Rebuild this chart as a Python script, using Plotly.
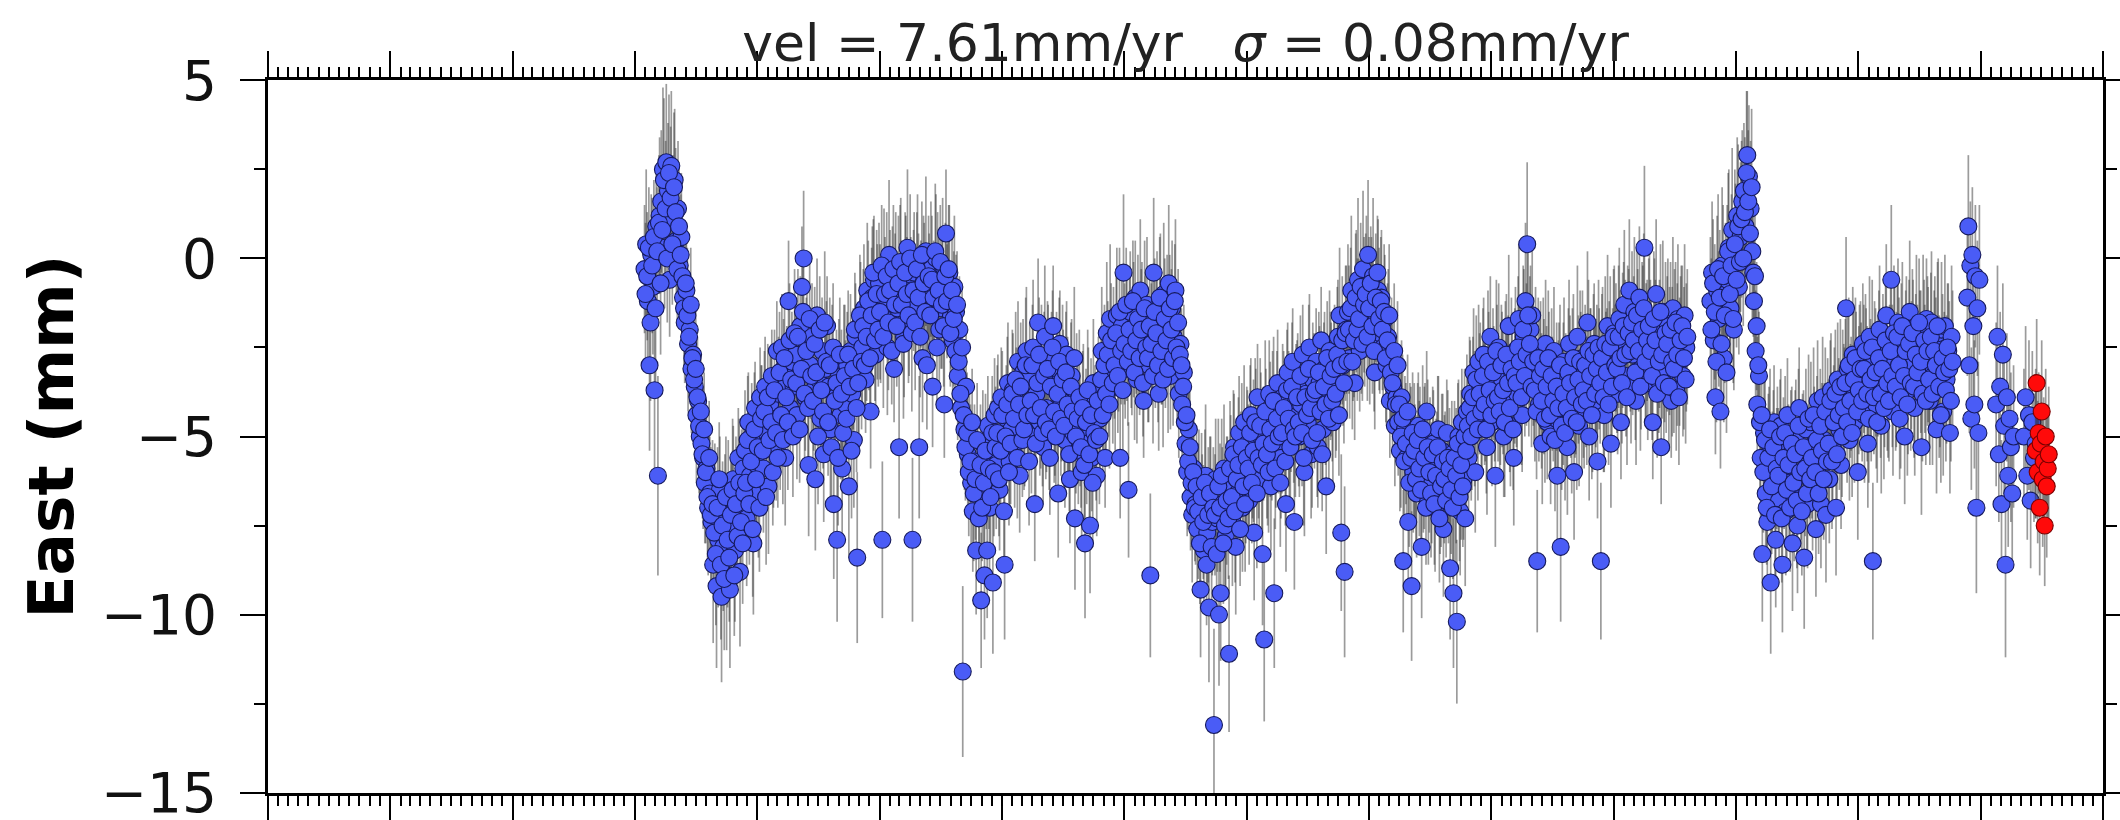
import pandas as pd
import plotly.graph_objects as go


def vals(text):
    """Parse a whitespace-separated block of numbers."""
    return [float(v) for v in text.split()]


# East component of a GPS position time series (mm).
# Segment A (from 2008-01-30), solutions every 5 days
east_a1 = [-0.3, 0.4, -1.2, -3.0, 0.1, -0.8, -3.7, 0.9, -6.1, 1.2,
           1.6, 2.5, 0.3, 2.7, 1.9, -0.6, 2.6, 1.1, 2.2, 0.5,
           1.4, -0.2, 0.6, -1.1, -1.8, -0.9, -2.4, -2.0, -3.1, -2.7,
           -3.6, -4.4, -4.0, -5.0, -5.2, -5.6, -6.3, -5.9, -7.0, -6.6,
           -7.4, -8.6, -6.8, -9.2, -7.9, -6.5, -9.5, -8.1, -7.2, -8.9,
           -6.7, -9.3, -7.5, -6.2, -8.2, -7.0, -5.6, -8.8, -6.4, -5.9,
           -5.4, -7.3, -4.6, -6.1, -5.0, -8.0, -4.2, -5.8, -6.6, -3.9,
           -4.6, -5.9, -3.6, -4.9, -6.4, -4.1, -3.3, -5.3, -4.5, -2.6,
           -3.8, -4.7, -2.5, -3.1, -5.6, -3.5, -1.2, -4.2, -2.9, -3.6,
           -2.7, -4.4, -3.3, -1.9, -0.8, 0.0, -3.9, -2.4, -5.8, -3.0]
east_a2 = [-2.2, -3.7, -6.2, -1.6, -3.4, -4.5, -2.6, -5.5, -3.1, -1.9,
           -3.6, -4.8, -2.8, -6.9, -3.9, -7.9, -3.2, -4.4, -5.9, -2.9,
           -4.1, -3.0, -6.4, -2.6, -3.8, -5.1, -2.2, -8.4, -3.3, -1.8,
           -2.5, -1.4, -3.4, -0.9, -2.0, -4.3, -1.1, -0.6, -2.7, -1.5,
           -0.7, -1.9, -7.9, -0.4, -1.2, -2.5, 0.1, -1.6, -0.8, -3.1,
           -0.5, -1.4, -5.3, -0.2, -1.1, -2.2, -0.6, 0.3, -1.7, -0.9,
           -7.9, -0.4, -1.3, -0.1, -5.3, -1.0, -2.8, -0.6, 0.2, -1.5,
           -0.9, -0.3, -3.6, -1.2, 0.0, -0.7, -2.0, -1.4, -0.2, -4.1,
           0.7, -1.0, -0.4, -1.6, -2.3, -0.8, -1.5, -3.3, -2.0, -4.2,
           -11.6, -4.8, -3.6, -5.5, -5.0, -6.3, -7.1, -5.7, -8.2, -6.0]
east_a3 = [-6.6, -9.6, -5.2, -8.9, -6.0, -4.7, -7.0, -5.5, -9.1, -4.4,
           -5.8, -4.2, -6.5, -3.9, -5.0, -8.6, -4.5, -3.5, -5.7, -4.8,
           -3.7, -5.2, -4.0, -2.9, -6.1, -4.4, -3.2, -5.0, -2.6, -4.3,
           -3.3, -4.9, -2.5, -6.9, -3.8, -1.8, -4.6, -3.0, -5.3, -2.2,
           -4.2, -2.8, -5.6, -3.4, -1.9, -4.7, -3.1, -6.6, -2.4, -4.0,
           -3.6, -5.1, -2.7, -4.4, -6.2, -3.3, -4.9, -7.3, -3.8, -5.4,
           -4.8, -6.0, -3.9, -8.0, -5.2, -4.1, -7.5, -5.6, -3.5, -4.6,
           -6.1, -3.7, -4.5, -2.6, -3.9, -5.6, -2.1, -3.3, -1.7, -2.9,
           -2.4, -3.6, -1.6, -2.8, -5.6, -1.9, -0.4, -3.1, -2.2, -6.5,
           -1.5, -2.9, -2.0, -1.1, -3.4, -2.5, -0.9, -1.8, -4.0, -2.3]
east_a4 = [-1.3, -3.0, -8.9, -2.1, -0.4, -2.7, -1.6, -3.8, -1.2, -2.4,
           -1.0, -2.6, -1.7, -0.7, -3.3, -1.4, -2.2, -0.9, -2.9, -3.8,
           -2.4, -4.1, -3.2, -5.2, -6.0, -4.8, -6.7, -7.2, -5.9, -6.9,
           -7.6, -6.4, -9.3, -7.0, -8.2, -6.1, -7.7, -9.8, -6.8, -7.4,
           -13.1, -6.2, -7.3, -10.0, -9.4, -6.9, -5.9, -7.8, -6.5, -11.1,
           -6.0, -7.4, -5.3, -8.1, -6.6, -4.9, -5.8, -7.0, -4.6, -6.3,
           -5.2, -6.8, -4.4, -5.9, -7.7, -4.8, -3.9, -6.2, -5.0, -8.3,
           -10.7, -4.7, -5.8, -3.8, -6.4, -4.2, -9.4, -5.3, -3.5, -4.9,
           -5.6, -3.9, -4.7, -6.9, -3.2, -5.1, -4.4, -2.9, -7.4, -4.0,
           -3.6, -5.0, -4.1, -2.7, -6.0, -3.8, -4.6, -2.5, -5.5, -3.4]
east_a5 = [-4.3, -2.9, -5.3, -3.5, -2.3, -4.8, -3.1, -6.4, -3.9, -2.6,
           -3.4, -4.6, -2.8, -3.7, -2.2, -1.6, -7.7, -3.0, -8.8, -2.0,
           -1.5, -2.8, -0.9, -2.2, -3.5, -1.2, -0.6, -2.6, -1.9, -0.3,
           -1.8, -0.8, 0.1, -2.4, -1.3, -0.5, -3.2, -1.6, -0.9, -2.1,
           -1.1, -2.5, -1.7, -3.0, -2.2, -4.0, -2.9, -3.6, -4.7, -3.9,
           -4.6, -5.4, -3.9, -8.5, -4.8, -5.6, -7.4, -5.1, -9.2, -6.0,
           -5.7, -6.6, -4.7, -5.3, -8.1, -6.1, -5.0, -4.3, -6.8, -5.5,
           -6.3, -5.2, -7.0, -5.9, -4.8, -6.6, -5.4, -7.6, -6.0, -4.9,
           -6.4, -8.7, -5.5, -9.4, -6.8, -10.2, -5.0, -7.1, -4.6, -6.2,
           -7.3, -4.3, -5.6, -3.8, -4.9, -3.2, -6.0, -4.1, -2.9, -3.6]
east_a6 = [-4.4, -2.7, -3.9, -5.3, -3.1, -2.2, -4.6, -3.5, -6.1, -3.0,
           -2.5, -4.2, -3.4, -5.0, -2.8, -3.9, -1.9, -4.7, -3.2, -5.6,
           -2.6, -3.8, -1.7, -3.0, -4.4, -2.2, -1.2, 0.4, -3.3, -2.0,
           -1.6, -3.5, -2.7, -8.5, -4.1, -3.0, -5.2, -3.6, -2.4, -4.6,
           -3.2, -5.0, -3.8, -2.6, -4.5, -6.1, -3.4, -8.1, -4.2, -2.9,
           -3.7, -5.3, -2.4, -4.0, -3.1, -6.0, -3.9, -2.2, -4.7, -3.3,
           -2.8, -4.3, -3.6, -1.8, -5.0, -3.0, -4.1, -2.4, -3.5, -5.7,
           -3.1, -8.5, -2.6, -4.4, -3.4, -1.9, -2.9, -5.2, -3.0, -2.1,
           -2.5, -3.8, -1.7, -4.6, -2.3, -1.3, -3.3, -2.0, -0.9, -3.6,
           -2.7, -1.5, -4.0, -2.2, -1.1, -3.1, -2.0, 0.3, -2.6, -3.5]
east_a7 = [-1.8, -2.9, -4.6, -2.0, -1.0, -3.4, -2.4, -5.3, -1.5, -2.8,
           -3.2, -1.9, -2.6, -4.0, -1.4, -2.2, -3.7, -1.7, -2.9, -2.1,
           -3.3, -1.6, -2.5]

sig_a1 = [1.8, 2.1, 1.6, 2.4, 1.7, 1.9, 2.6, 1.5, 2.8, 2.2,
          2.0, 2.3, 1.7, 2.2, 1.9, 1.6, 2.1, 1.8, 2.0, 1.5,
          1.9, 1.6, 1.8, 1.5, 1.7, 1.4, 1.9, 1.6, 1.8, 1.5,
          1.7, 1.9, 1.5, 1.8, 1.6, 2.0, 1.7, 1.5, 1.9, 1.6,
          1.8, 2.2, 1.6, 2.3, 1.9, 1.5, 2.4, 1.8, 1.7, 2.1,
          1.6, 2.2, 1.8, 1.5, 2.0, 1.7, 1.4, 2.1, 1.6, 1.5,
          1.7, 1.9, 1.4, 1.6, 1.5, 2.0, 1.3, 1.7, 1.8, 1.4,
          1.6, 1.8, 1.4, 1.5, 1.9, 1.6, 1.3, 1.7, 1.5, 1.4,
          1.6, 1.8, 1.5, 1.4, 1.9, 1.6, 1.7, 1.5, 1.4, 1.6,
          1.5, 1.8, 1.6, 1.4, 1.7, 1.9, 1.5, 1.6, 2.0, 1.5]
sig_a2 = [1.5, 1.7, 2.0, 1.6, 1.4, 1.8, 1.5, 1.9, 1.6, 1.4,
          1.7, 1.9, 1.5, 2.1, 1.6, 2.3, 1.5, 1.8, 2.0, 1.6,
          1.8, 1.5, 2.0, 1.6, 1.7, 1.9, 1.5, 2.4, 1.6, 1.7,
          1.6, 1.8, 1.5, 1.9, 1.7, 1.6, 2.0, 1.8, 1.5, 1.9,
          1.7, 1.6, 2.2, 1.8, 1.5, 1.9, 2.1, 1.6, 1.7, 1.5,
          1.8, 1.6, 2.0, 1.9, 1.5, 1.7, 1.8, 2.2, 1.6, 1.5,
          2.3, 1.7, 1.6, 1.9, 2.0, 1.5, 1.8, 1.6, 2.1, 1.7,
          1.6, 1.9, 1.7, 1.5, 1.8, 2.0, 1.6, 1.7, 1.9, 1.5,
          1.8, 1.6, 1.9, 1.5, 1.7, 2.0, 1.6, 1.8, 1.5, 1.9,
          2.4, 1.7, 1.6, 1.8, 1.5, 1.9, 1.7, 1.6, 1.8, 1.5]
sig_a3 = [1.7, 1.9, 1.5, 1.8, 1.6, 1.4, 1.9, 1.5, 2.0, 1.6,
          1.8, 1.5, 1.7, 1.4, 1.6, 2.1, 1.5, 1.7, 1.6, 1.4,
          1.6, 1.8, 1.5, 1.7, 1.6, 1.9, 1.5, 1.4, 1.8, 1.6,
          1.5, 1.7, 1.9, 1.6, 1.4, 1.8, 1.5, 1.7, 1.6, 2.0,
          1.8, 1.5, 1.6, 1.9, 1.7, 1.4, 1.6, 1.8, 1.5, 1.7,
          1.6, 1.9, 1.5, 1.7, 1.8, 1.6, 1.4, 2.0, 1.7, 1.5,
          1.6, 1.8, 1.5, 2.1, 1.7, 1.6, 1.9, 1.5, 1.8, 1.6,
          1.7, 1.5, 1.9, 1.8, 1.6, 1.4, 2.0, 1.7, 2.1, 1.5,
          1.6, 1.8, 1.9, 1.5, 1.7, 1.6, 2.2, 1.4, 1.8, 1.9,
          1.7, 1.5, 1.9, 1.6, 1.8, 1.5, 2.0, 1.7, 1.6, 1.8]
sig_a4 = [1.9, 1.6, 2.3, 1.7, 2.1, 1.5, 1.8, 1.6, 1.9, 1.7,
          2.0, 1.6, 1.8, 2.2, 1.5, 1.9, 1.7, 2.0, 1.6, 1.8,
          1.7, 1.5, 1.9, 1.6, 1.8, 1.7, 1.5, 1.9, 1.6, 1.7,
          1.8, 1.6, 1.9, 1.5, 1.7, 2.0, 1.6, 2.1, 1.8, 1.5,
          2.7, 1.7, 1.5, 2.0, 1.9, 1.6, 1.8, 1.7, 1.5, 2.2,
          1.6, 1.8, 1.5, 1.9, 1.7, 1.6, 1.5, 1.8, 1.6, 1.7,
          1.5, 1.8, 1.6, 1.4, 1.9, 1.7, 1.5, 1.6, 1.8, 2.0,
          2.3, 1.6, 1.7, 1.5, 1.8, 1.6, 2.1, 1.7, 1.5, 1.6,
          1.7, 1.5, 1.6, 1.9, 1.4, 1.7, 1.6, 1.5, 1.9, 1.6,
          1.5, 1.7, 1.6, 1.4, 1.8, 1.5, 1.6, 1.5, 1.8, 1.6]
sig_a5 = [1.6, 1.5, 1.7, 1.6, 1.5, 1.8, 1.6, 1.9, 1.5, 1.7,
          1.6, 1.8, 1.5, 1.7, 1.6, 1.9, 2.2, 1.7, 2.4, 1.8,
          1.9, 1.7, 2.1, 1.8, 1.6, 2.0, 2.3, 1.7, 1.9, 2.2,
          1.8, 2.0, 2.1, 1.7, 1.9, 2.2, 1.6, 1.8, 2.0, 1.7,
          1.9, 1.6, 1.8, 1.7, 1.9, 1.6, 1.8, 1.5, 1.7, 1.6,
          1.5, 1.7, 1.6, 2.0, 1.5, 1.8, 1.9, 1.6, 2.1, 1.7,
          1.6, 1.8, 1.5, 1.7, 2.0, 1.6, 1.5, 1.7, 1.8, 1.6,
          1.7, 1.5, 1.8, 1.6, 1.5, 1.7, 1.6, 1.9, 1.7, 1.5,
          1.6, 2.0, 1.5, 2.1, 1.7, 2.3, 1.6, 1.8, 1.5, 1.7,
          1.9, 1.6, 1.7, 1.5, 1.6, 1.8, 1.7, 1.5, 1.6, 1.8]
sig_a6 = [1.7, 1.6, 1.8, 1.9, 1.6, 1.7, 1.8, 1.6, 2.0, 1.7,
          1.8, 1.6, 1.9, 1.7, 1.6, 1.8, 2.0, 1.7, 1.6, 1.9,
          1.8, 1.7, 2.1, 1.8, 1.6, 1.9, 2.2, 2.3, 1.7, 1.8,
          2.0, 1.7, 1.9, 2.0, 1.6, 1.8, 1.7, 1.9, 1.8, 1.6,
          1.7, 1.9, 1.6, 1.8, 1.7, 1.9, 1.6, 2.1, 1.7, 1.8,
          1.6, 1.9, 1.8, 1.6, 1.7, 1.9, 1.6, 2.0, 1.7, 1.8,
          1.9, 1.6, 1.7, 2.0, 1.8, 1.6, 1.9, 1.7, 1.8, 1.6,
          1.7, 2.2, 1.8, 1.6, 1.9, 2.0, 1.7, 1.8, 1.6, 1.9,
          1.8, 1.7, 2.0, 1.6, 1.9, 2.1, 1.7, 1.8, 2.0, 1.6,
          1.7, 2.1, 1.8, 1.9, 2.0, 1.7, 1.8, 2.3, 1.9, 1.6]
sig_a7 = [1.9, 1.7, 1.6, 2.0, 2.1, 1.7, 1.8, 1.6, 2.0, 1.8,
          1.7, 1.9, 1.8, 1.6, 2.0, 1.9, 1.7, 2.1, 1.8, 1.9,
          1.7, 2.0, 1.8]

# Segment A, intermediate solutions (3 days after each of the above)
east_a_mid = vals("""
-1.0 -0.5 0.3 -1.8 -0.2 0.6 -1.4 0.2 1.0 -0.7
0.8 2.2 1.4 0.0 2.4 1.7 0.4 2.0 1.3 -0.3
0.9 0.1 -0.5 -1.4 -0.7 -1.6 -2.2 -1.3 -2.8 -3.4
-3.1 -3.9 -4.7 -4.3 -5.5 -4.8 -6.0 -6.7 -5.6 -7.2
-6.9 -7.7 -8.3 -7.0 -6.2 -8.6 -7.5 -9.0 -6.7 -7.9
-8.4 -7.2 -6.5 -8.9 -6.9 -7.8 -6.3 -7.4 -8.0 -6.6
-6.3 -5.1 -6.9 -5.7 -7.6 -4.8 -6.2 -5.3 -7.0 -4.5
-5.4 -4.3 -6.7 -3.9 -5.1 -4.6 -6.0 -3.7 -4.9 -5.6
-3.2 -4.4 -5.1 -2.8 -3.9 -4.6 -2.3 -3.4 -5.0 -2.1
-3.5 -2.2 -4.8 -3.1 -1.5 -3.8 -2.6 -4.2 -1.7 -3.3
-4.0 -2.4 -3.2 -5.0 -2.0 -3.7 -4.3 -1.8 -2.9 -4.6
-3.0 -5.3 -2.5 -4.0 -3.5 -5.6 -2.7 -3.8 -4.9 -3.3
-4.5 -2.7 -3.6 -5.4 -3.1 -2.0 -4.2 -3.5 -1.6 -2.9
-1.9 -3.0 -2.2 -1.2 -2.8 -1.6 -0.4 -2.3 -1.0 -2.0
-1.5 -0.2 -2.2 -1.0 -0.5 -1.8 -0.9 -2.6 -0.3 -1.3
-1.9 -0.7 -0.1 -1.3 -2.4 -0.4 -1.0 -1.6 0.0 -2.1
-0.9 -1.8 -0.3 -1.1 -2.2 0.1 -0.7 -1.5 -3.0 -0.5
-1.6 -0.6 -1.1 0.2 -2.5 -0.9 -0.1 -1.3 -1.9 -0.5
-1.2 -0.3 -2.1 -0.9 -1.7 -2.6 -1.3 -2.9 -3.8 -2.5
-4.4 -5.3 -4.9 -6.0 -5.7 -4.6 -6.6 -6.2 -5.1 -7.3
-5.8 -7.0 -6.3 -5.4 -8.2 -5.9 -6.7 -4.9 -6.0 -5.3
-4.9 -6.2 -5.4 -4.4 -7.1 -5.0 -4.1 -6.0 -5.2 -3.8
-4.5 -3.4 -5.6 -4.1 -3.6 -5.1 -4.8 -3.0 -4.4 -5.7
-4.0 -3.0 -4.4 -5.2 -3.5 -2.7 -4.2 -4.9 -3.3 -4.6
-3.1 -4.8 -3.6 -2.5 -4.3 -5.0 -3.8 -2.9 -4.5 -3.4
-4.7 -3.2 -4.1 -5.5 -3.6 -4.3 -2.8 -5.0 -4.5 -3.9
-5.3 -4.2 -5.8 -4.6 -3.7 -5.5 -4.4 -6.3 -4.9 -5.1
-4.0 -5.0 -3.4 -4.4 -3.0 -3.8 -2.7 -4.1 -2.3 -3.5
-3.0 -2.1 -3.3 -1.5 -2.6 -3.7 -2.4 -1.3 -2.9 -2.0
-2.6 -1.2 -3.2 -2.3 -1.7 -2.8 -2.0 -3.5 -1.4 -2.5
-2.8 -1.9 -2.4 -3.3 -1.5 -2.1 -3.0 -1.1 -2.6 -3.4
-1.7 -2.3 -3.1 -1.4 -2.0 -2.8 -1.2 -2.5 -1.8 -2.7
-3.0 -3.6 -4.6 -4.4 -5.7 -5.3 -6.3 -6.0 -7.0 -6.4
-7.1 -8.0 -6.7 -7.4 -6.3 -8.6 -7.2 -6.6 -8.1 -7.0
-7.2 -8.3 -6.4 -7.0 -6.1 -8.0 -7.5 -6.8 -7.3 -5.9
-6.7 -5.5 -7.1 -6.2 -5.8 -7.6 -5.3 -6.4 -6.9 -5.6
-5.9 -4.9 -6.3 -5.4 -4.6 -6.6 -5.6 -4.7 -5.8 -5.2
-4.3 -5.5 -6.0 -4.8 -5.2 -4.0 -5.9 -4.5 -5.0 -6.3
-4.9 -4.2 -5.7 -3.7 -4.5 -5.3 -3.6 -4.8 -5.0 -3.9
-4.6 -3.3 -4.9 -5.6 -3.9 -4.4 -3.1 -4.2 -5.1 -3.8
-3.7 -4.9 -3.2 -4.3 -5.5 -3.6 -4.1 -2.8 -4.5 -3.3
-4.0 -3.1 -3.8 -2.7 -4.4 -3.0 -2.3 -3.5 -2.1 -2.9
-2.0 -1.4 -2.9 -2.3 -1.1 -2.0 -1.7 -0.8 -2.4 -1.3
-1.0 -2.2 -1.4 -0.7 -1.9 -2.6 -1.1 -0.4 -1.7 -1.2
-2.0 -1.5 -2.8 -2.3 -1.6 -3.2 -3.5 -2.6 -4.1 -3.0
-4.1 -5.0 -4.5 -5.7 -5.2 -4.3 -6.3 -5.6 -4.9 -5.4
-6.2 -5.1 -5.9 -6.5 -4.8 -5.6 -7.0 -5.3 -6.0 -6.6
-5.5 -6.9 -6.1 -5.3 -7.3 -6.4 -5.7 -6.2 -6.8 -5.6
-5.9 -6.5 -7.0 -5.6 -6.1 -5.2 -6.7 -5.8 -6.4 -5.0
-5.4 -4.7 -4.2 -5.0 -3.9 -4.5 -3.4 -4.8 -3.8 -4.3
-3.3 -4.1 -4.8 -2.9 -3.7 -4.4 -3.2 -4.0 -2.6 -3.9
-4.3 -3.0 -3.7 -4.6 -2.7 -3.5 -4.2 -3.1 -4.8 -3.3
-3.5 -2.5 -2.9 -3.9 -2.0 -3.3 -2.7 -1.6 -2.4 -3.6
-2.9 -3.7 -4.3 -2.8 -3.3 -4.0 -3.1 -4.5 -3.6 -2.8
-4.4 -3.3 -4.0 -5.1 -3.6 -4.2 -3.0 -4.7 -3.8 -4.9
-4.2 -3.2 -3.5 -4.5 -2.8 -3.9 -4.6 -3.4 -2.9 -4.1
-3.7 -3.0 -4.0 -2.6 -3.3 -4.4 -2.7 -3.8 -3.1 -2.5
-3.5 -2.8 -3.9 -2.4 -3.2 -4.1 -2.5 -3.6 -2.2 -3.0
-3.1 -2.2 -2.8 -3.5 -1.9 -2.7 -3.9 -2.1 -2.6 -1.8
-2.3 -3.2 -1.6 -2.6 -3.6 -2.0 -1.4 -2.9 -2.3 -1.9
-2.6 -3.3 -1.7 -2.3 -3.8 -2.9 -1.5 -2.7 -3.5 -2.1
-2.4 -3.6 -2.0 -2.9 -3.1 -1.8 -2.7 -3.9 -2.3 -1.9
-2.8 -3.4 -2.2
""")
sig_a_mid = vals("""
2.0 1.8 1.7 2.2 1.9 1.6 2.1 1.8 1.9 2.0 1.7 2.3 1.9 1.8 2.2 2.0 1.7 2.1 1.8 1.6
1.8 1.7 1.6 1.8 1.5 1.9 1.7 1.6 1.8 1.9 1.6 1.7 1.9 1.5 1.8 1.6 2.0 1.7 1.6 1.9
1.8 1.9 2.0 1.7 1.6 2.1 1.8 2.0 1.7 1.9 1.8 1.6 2.0 1.7 1.9 1.5 1.8 1.6 1.7 1.5
1.6 1.8 1.7 1.5 1.9 1.6 1.4 1.7 1.8 1.5 1.6 1.7 1.9 1.5 1.6 1.8 1.5 1.7 1.9 1.4
1.7 1.5 1.8 1.6 1.4 1.9 1.6 1.5 1.7 1.8 1.6 1.9 1.5 1.7 1.6 2.0 1.5 1.8 1.7 1.6
1.8 1.6 1.7 1.9 1.5 1.8 1.6 2.0 1.7 1.5 1.9 1.6 1.8 1.7 1.5 1.9 1.6 1.8 1.7 2.0
1.6 1.8 1.5 1.9 1.7 1.6 1.8 1.5 1.7 1.9 1.6 1.5 1.8 1.7 1.6 1.9 1.5 1.7 1.8 1.6
1.9 1.7 2.0 1.6 1.8 1.9 1.7 1.5 1.8 2.0 1.7 1.9 1.6 1.8 2.1 1.7 1.6 1.9 1.8 2.2
1.7 1.9 1.6 1.8 1.7 1.5 1.9 1.6 1.8 1.7 1.5 1.8 1.6 1.9 1.7 1.5 1.6 1.8 1.7 1.5
1.6 1.8 1.5 1.7 1.9 1.6 1.5 1.8 1.7 1.6 1.9 1.5 1.7 1.8 1.6 1.5 1.9 1.7 1.6 1.8
1.7 1.5 1.8 1.6 1.9 1.7 1.5 1.6 1.8 1.7 1.9 1.6 1.5 1.8 1.7 1.6 1.9 1.5 1.7 1.8
1.6 1.9 1.7 1.5 1.8 1.6 1.7 1.9 1.5 1.8 1.6 1.7 1.5 1.9 1.8 1.6 1.7 1.5 1.8 1.6
1.9 1.7 1.8 1.6 2.0 1.7 1.9 1.8 1.6 2.1 1.8 1.7 1.9 1.6 1.8 1.7 2.0 1.6 1.8 1.9
1.7 1.6 1.8 1.5 1.7 1.9 1.6 1.8 1.5 1.7 1.6 1.9 1.5 1.8 1.7 1.6 1.5 1.8 1.6 1.7
1.5 1.7 1.6 1.8 1.5 1.9 1.7 1.6 1.8 1.5 1.6 1.7 1.9 1.5 1.8 1.6 1.7 1.5 1.9 1.6
1.8 1.6 1.7 1.9 1.5 1.8 1.6 1.7 1.5 1.9 1.7 1.6 1.8 1.5 1.7 1.9 1.6 1.8 1.5 1.7
1.6 1.8 1.5 1.7 1.9 1.6 1.8 1.7 1.5 1.6 1.9 1.7 1.8 1.6 1.5 1.7 1.9 1.6 1.8 1.7
1.7 1.6 1.9 1.8 1.6 1.7 2.0 1.8 1.7 1.9 1.6 1.8 2.0 1.7 1.9 1.6 1.8 1.7 1.9 2.0
1.8 1.9 1.7 2.0 1.8 2.1 1.7 1.9 1.8 1.6 2.0 1.8 1.7 1.9 1.6 1.8 1.7 1.9 1.6 1.8
1.7 1.6 1.8 1.7 1.9 1.6 1.8 1.5 1.7 1.6 1.8 1.7 1.5 1.9 1.6 1.7 1.8 1.6 1.9 1.7
1.6 1.8 1.7 1.9 1.6 1.8 1.7 1.6 1.9 1.8 1.7 1.6 1.8 1.9 1.7 1.6 1.8 1.7 1.9 1.6
1.8 1.7 1.9 1.6 1.8 2.0 1.7 1.8 1.6 1.9 1.7 1.8 2.0 1.6 1.9 1.7 1.8 1.6 2.0 1.8
1.7 1.9 1.8 1.6 2.0 1.7 1.8 1.9 1.6 1.8 1.7 2.0 1.8 1.9 1.7 1.6 1.8 2.0 1.7 1.9
1.8 1.6 1.9 1.7 1.8 2.0 1.6 1.9 1.7 1.8 1.9 1.7 1.6 2.0 1.8 1.7 1.9 1.8 1.6 1.9
1.7 1.8 2.0 1.6 1.9 1.7 1.8 2.1 1.7 1.9 1.8 1.6 2.0 1.8 1.7 1.9 1.8 2.0 1.7 1.8
1.9 1.7 1.8 2.0 1.6 1.9 1.8 1.7 2.0 1.8 1.9 1.7 1.8 2.1 1.7 1.9 1.8 2.0 1.7 1.9
1.8 2.0 1.7 1.9 1.8 1.7 2.0 1.8 1.9 1.7 1.8 2.0 1.9 1.7 1.8 1.9 2.0 1.8 1.7 1.9
1.8 1.9 1.7 2.0 1.8 1.9 1.7 1.8 2.0 1.9 1.7 1.8 1.9 2.1 1.8 1.7 1.9 1.8 2.0 1.8
1.9 1.7 1.8 2.0 1.9 1.8 1.7 2.0 1.8 1.9 1.7 1.8 2.1 1.9 1.8 1.7 2.0 1.8 1.9 1.7
1.8 2.0 1.9 1.7 1.8 2.1 1.9 1.8 1.7 2.0 1.8 1.9 2.0 1.7 1.8 1.9 2.1 1.8 1.7 1.9
2.0 1.8 1.9 1.7 1.8 2.0 1.9 1.8 1.7 2.0 1.9 1.8 1.9 2.1 1.8 1.7 2.0 1.9 1.8 1.7
2.0 1.8 1.9
""")

# Segment B (from 2016-10-16), solutions every 5 days
east_b = [-1.2, -0.4, -2.3, -3.9, -0.9, -1.7, -4.3, -0.2, -2.8, -1.0,
          -0.6, 0.3, -1.4, 0.8, -2.0, 0.1, 1.2, -0.8, 0.6, 1.6,
          1.9, 0.9, 2.9, 2.3, 1.4, 0.2, -1.2, -2.6, -4.1, -3.3,
          -5.6, -8.3, -4.9, -6.6, -7.4, -5.2, -9.1, -6.0, -4.6, -7.9,
          -5.3, -6.8, -4.7, -8.6, -5.9, -7.1, -4.4, -6.3, -5.5, -8.0,
          -6.7, -5.0, -7.5, -4.2, -6.1, -5.4, -8.4, -4.8, -6.9, -5.7,
          -4.6, -6.4, -5.2, -7.6, -4.0, -5.8, -6.9, -3.9, -5.1, -7.2,
          -4.5, -6.2, -3.7, -5.3, -4.3, -7.0, -3.4, -4.8, -5.8, -3.6,
          -4.2, -1.4, -3.1, -5.1, -3.8, -2.7, -4.6, -3.3, -6.0, -2.9,
          -3.6, -2.4, -4.4, -3.0, -5.2, -2.2, -3.8, -8.5, -2.8, -4.1,
          -3.3, -2.0, -4.7, -2.6, -3.5, -1.6, -3.9, -2.9, -0.6, -4.3,
          -2.5, -3.4, -1.8, -4.5, -2.7, -3.2, -5.0, -2.1, -3.7, -1.5,
          -3.0, -2.3, -4.2, -1.9, -3.4, -2.6, -5.3, -2.0, -3.1, -1.7,
          -2.7, -4.0, -1.8, -3.3, -2.4, -4.8, -2.1, -3.6, -2.0, -4.3,
          -1.9, -3.4, -2.6, -4.9, -2.2]
sig_b = [1.8, 2.0, 1.7, 1.6, 2.1, 1.9, 1.6, 2.2, 1.8, 2.0,
         2.1, 2.2, 1.8, 2.3, 1.7, 2.0, 2.2, 1.9, 2.1, 2.0,
         1.9, 2.2, 1.8, 2.0, 1.9, 2.1, 1.8, 1.7, 1.9, 1.8,
         1.7, 1.9, 1.6, 1.8, 1.7, 1.6, 2.0, 1.7, 1.6, 1.9,
         1.7, 1.8, 1.6, 1.9, 1.7, 1.8, 1.6, 1.7, 1.8, 1.9,
         1.8, 1.6, 1.9, 1.7, 1.8, 1.6, 2.0, 1.7, 1.8, 1.6,
         1.7, 1.8, 1.6, 1.9, 1.7, 1.6, 1.8, 1.7, 1.6, 1.9,
         1.7, 1.8, 1.6, 1.7, 1.8, 1.9, 1.6, 1.7, 1.8, 1.6,
         1.7, 2.0, 1.8, 1.7, 1.6, 1.9, 1.7, 1.8, 1.9, 1.6,
         1.8, 1.7, 1.9, 1.6, 1.8, 1.7, 1.9, 2.2, 1.6, 1.8,
         1.7, 1.8, 1.9, 1.6, 1.8, 2.0, 1.7, 1.6, 2.1, 1.8,
         1.7, 1.9, 1.8, 1.7, 2.0, 1.8, 1.9, 1.6, 1.8, 2.0,
         1.8, 1.7, 1.9, 2.0, 1.8, 1.7, 1.9, 2.1, 1.8, 1.7,
         1.9, 1.8, 2.0, 1.7, 1.9, 1.8, 2.1, 1.7, 1.9, 1.8,
         2.0, 1.8, 1.9, 1.7, 2.0]

# Segment B, intermediate solutions
east_b_mid = vals("""
-2.0 -0.7 -1.5 -2.9 -0.3 -1.1 -2.4 -0.5 -1.6 -3.2
0.2 -1.0 -0.2 -1.7 0.4 -0.6 0.9 -0.1 1.1 0.0
1.3 2.4 1.6 0.7 2.0 -0.4 -0.5 -1.9 -3.0 -4.6
-4.4 -6.0 -5.1 -7.0 -5.6 -4.8 -6.4 -5.3 -7.2 -5.9
-6.1 -5.0 -7.3 -5.6 -4.9 -6.5 -5.8 -7.0 -5.2 -6.3
-5.5 -6.8 -4.7 -6.0 -7.1 -5.3 -5.9 -6.6 -4.5 -6.2
-5.6 -4.4 -6.0 -5.1 -6.6 -4.7 -5.4 -6.2 -4.3 -5.7
-5.2 -4.0 -5.7 -4.6 -3.8 -5.5 -4.4 -3.6 -5.0 -4.2
-3.5 -4.6 -3.0 -4.0 -4.9 -3.4 -2.8 -4.3 -3.7 -3.1
-4.0 -3.1 -2.6 -3.8 -4.5 -3.4 -2.5 -3.9 -3.2 -4.6
-2.8 -3.8 -3.1 -4.2 -2.3 -3.5 -4.0 -2.6 -3.3 -2.1
-3.6 -2.2 -3.0 -3.9 -1.9 -3.3 -2.6 -4.1 -2.4 -3.5
-2.1 -3.6 -2.7 -3.2 -1.8 -2.9 -3.8 -2.3 -4.0 -2.6
-3.4 -2.2 -3.8 -2.6 -3.0 -1.9 -3.6 -4.4 -2.8 -3.2
-3.7 -2.5 -3.1 -4.0 -2.9
""")
sig_b_mid = vals("""
2.0 1.8 1.9 1.7 2.1 1.9 1.8 2.0 1.9 1.7 2.2 1.9 2.0 1.8 2.1 1.9 2.3 2.0 2.2 1.9
2.1 2.3 2.0 1.9 2.2 1.8 1.9 1.8 1.7 1.9 1.8 1.7 1.9 1.6 1.8 1.7 1.9 1.6 1.8 1.7
1.9 1.6 1.8 1.7 1.6 1.9 1.7 1.8 1.6 1.7 1.8 1.9 1.6 1.7 1.8 1.6 1.9 1.7 1.8 1.6
1.7 1.9 1.6 1.8 1.7 1.6 1.9 1.7 1.8 1.6 1.8 1.7 1.9 1.6 1.8 1.7 1.6 1.9 1.7 1.8
1.8 1.7 1.9 1.6 1.8 1.9 1.7 1.6 1.8 1.9 1.7 1.8 1.6 1.9 1.8 1.7 1.9 1.6 1.8 1.7
1.9 1.8 1.7 2.0 1.8 1.9 1.7 1.8 2.0 1.9 1.8 1.7 1.9 2.0 1.8 1.9 1.7 2.0 1.8 1.9
1.8 2.0 1.7 1.9 1.8 2.0 1.9 1.7 1.8 2.1 1.9 1.8 2.0 1.7 1.9 1.8 2.0 1.9 1.8 1.7
2.0 1.8 1.9 1.7 2.0
""")

# Short occupations at the end of the series
east_c = [-1.1, 0.9, -3.0, -0.2, -4.5, 0.1, -1.9, -4.1, -0.5, -7.0, -1.4, -4.9, -0.6]
sig_c = [2.2, 2.0, 1.9, 1.8, 2.0, 1.9, 2.1, 1.8, 2.0, 2.4, 1.9, 2.0, 2.1]
east_d = [-4.1, -2.2, -5.5, -3.6, -6.9, -2.7, -4.7, -8.6, -3.9, -6.1, -4.5, -5.3, -6.6, -5.0]
sig_d = [2.3, 2.0, 1.9, 2.1, 1.8, 2.0, 1.9, 2.6, 1.8, 2.0, 1.9, 2.1, 1.9, 2.0]
east_e = [-5.0, -3.9, -6.1, -4.4, -6.8, -4.6, -5.6, -5.2]
sig_e = [1.9, 2.0, 1.8, 2.1, 1.9, 2.0, 1.8, 2.1]

# Most recent solutions (highlighted)
east_new = [-5.4, -3.5, -6.0, -4.9, -7.0, -5.2, -4.3, -6.2, -5.7, -7.5, -5.0, -6.4, -5.9, -5.5]
sig_new = [1.9, 1.8, 2.0, 1.7, 1.9, 1.8, 2.0, 1.9, 1.8, 1.7, 1.9, 2.0, 1.8, 1.9]

segments = [
    ("2008-01-30", "5D", east_a1 + east_a2 + east_a3 + east_a4 + east_a5 + east_a6 + east_a7,
     sig_a1 + sig_a2 + sig_a3 + sig_a4 + sig_a5 + sig_a6 + sig_a7),
    ("2008-02-02", "5D", east_a_mid, sig_a_mid),
    ("2016-10-16", "5D", east_b, sig_b),
    ("2016-10-19", "5D", east_b_mid, sig_b_mid),
    ("2018-11-22", "3D", east_c, sig_c),
    ("2019-02-16", "4D", east_d, sig_d),
    ("2019-05-10", "5D", east_e, sig_e),
]
new_start, new_step = "2019-06-14", "3D"

vel_text = "vel = 7.61mm/yr\u00a0\u00a0\u00a0<i>σ</i> = 0.08mm/yr"

x_blue, y_blue, e_blue = [], [], []
for start, step, v, s in segments:
    pairs = list(zip(v, s))
    dates = pd.date_range(start, periods=len(pairs), freq=step)
    x_blue += list(dates)
    y_blue += [p[0] for p in pairs]
    e_blue += [p[1] for p in pairs]

x_new = list(pd.date_range(new_start, periods=len(east_new), freq=new_step))

err_style = dict(type="data", visible=True, color="rgba(45,45,45,0.48)", thickness=1.7, width=0)

fig = go.Figure()
fig.add_trace(go.Scatter(
    x=x_blue, y=y_blue, mode="markers",
    error_y=dict(array=e_blue, **err_style),
    marker=dict(size=17, color="#4a5cf6", line=dict(color="#161a5c", width=1.1)),
    showlegend=False,
))
fig.add_trace(go.Scatter(
    x=x_new, y=east_new, mode="markers",
    error_y=dict(array=sig_new, **err_style),
    marker=dict(size=17, color="#ff0a0a", line=dict(color="#7a0000", width=1.1)),
    showlegend=False,
))

axis_common = dict(
    showline=True, linewidth=3, linecolor="black", mirror="ticks",
    ticks="outside", tickcolor="black", tickwidth=2,
    showgrid=False, zeroline=False, automargin=False,
)

fig.update_layout(
    width=2120, height=820,
    margin=dict(l=268, r=17, t=80, b=27, pad=0),
    paper_bgcolor="white", plot_bgcolor="white",
    font=dict(family="DejaVu Sans", color="black"),
    title=dict(text=vel_text, x=0.5, xref="paper", xanchor="center",
               y=1 - 43 / 820, yref="container", yanchor="middle",
               font=dict(size=52, color="#222222", family="DejaVu Sans")),
    xaxis=dict(type="date", range=["2005-01-01", "2020-01-01"],
               dtick="M12", tick0="2005-01-01", ticklen=26,
               showticklabels=False,
               minor=dict(ticks="outside", dtick="M1", ticklen=10, tickwidth=1.5, tickcolor="black"),
               **axis_common),
    yaxis=dict(range=[-15.01, 5.01], tickvals=[-15, -10, -5, 0, 5], ticklen=25,
               tickfont=dict(size=55, color="#111111"),
               ticklabelstandoff=12, ticklabeloverflow="allow",
               minor=dict(ticks="outside", tickvals=[-12.5, -7.5, -2.5, 2.5],
                          ticklen=11, tickwidth=1.5, tickcolor="black"),
               title=dict(text="East (mm)", standoff=7,
                          font=dict(size=63, weight="bold", color="black")),
               **axis_common),
)

fig.write_html("out.html")
